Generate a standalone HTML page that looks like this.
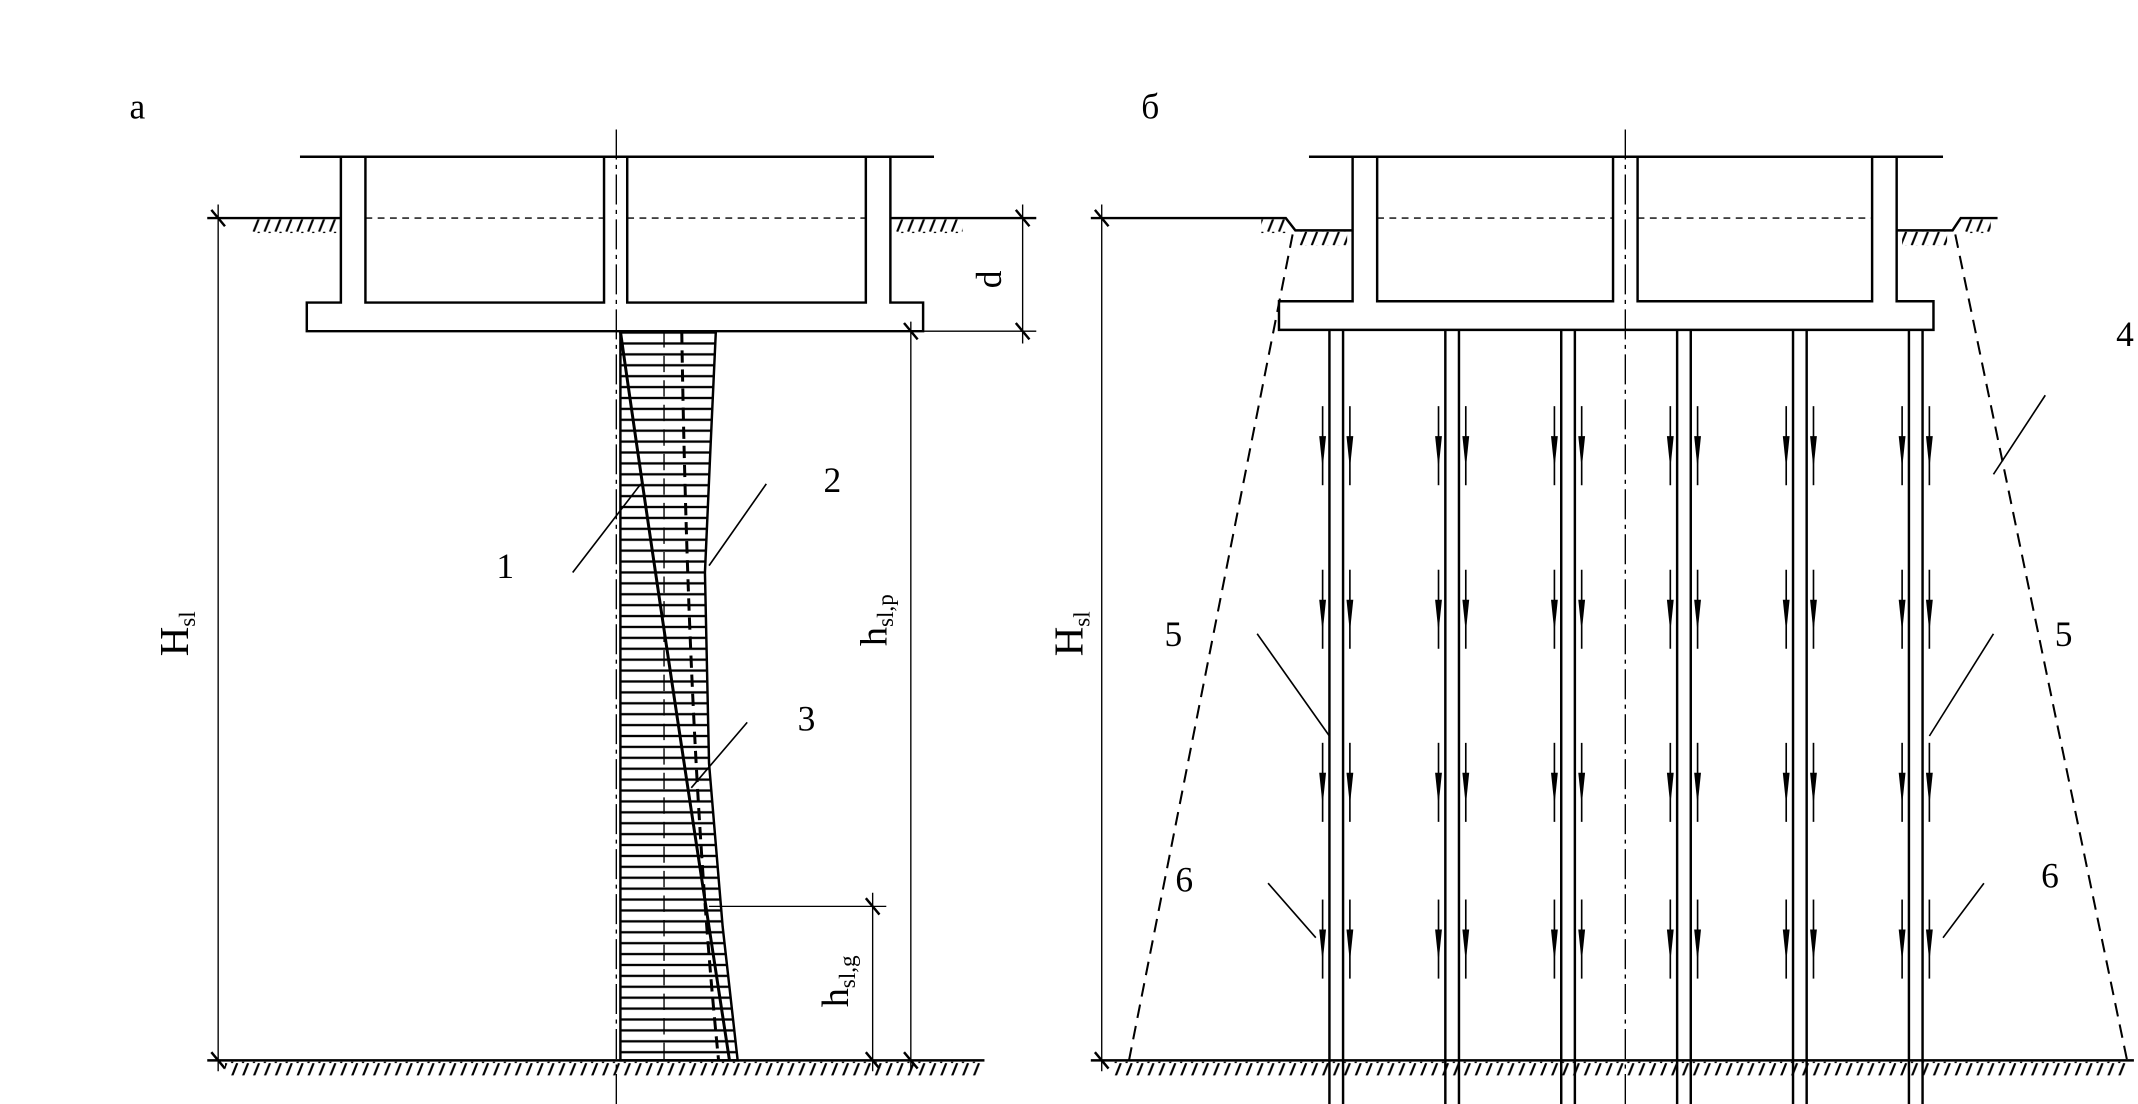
<!DOCTYPE html>
<html><head><meta charset="utf-8"><style>
html,body{margin:0;padding:0;background:#fff;}
svg{display:block;}
text{font-family:"Liberation Serif",serif;fill:#000;}
</style></head><body>
<svg width="2138" height="1104" viewBox="0 0 1568 810" preserveAspectRatio="none" xmlns="http://www.w3.org/2000/svg">
<defs>
<pattern id="hat" width="8" height="10" patternUnits="userSpaceOnUse">
<line x1="6" y1="0" x2="2" y2="10" stroke="#000" stroke-width="1.6"/>
</pattern>
<pattern id="hz" width="10" height="8" patternUnits="userSpaceOnUse">
<line x1="0" y1="4" x2="10" y2="4" stroke="#000" stroke-width="1.7"/>
</pattern>
<g id="arr">
<line x1="0" y1="0" x2="0" y2="58" stroke="#000" stroke-width="1.2"/>
<polygon points="-2.5,22 2.5,22 0,46" fill="#000"/>
</g>
<g id="col">
<use href="#arr" x="-10" y="298"/><use href="#arr" x="10" y="298"/>
<use href="#arr" x="-10" y="418"/><use href="#arr" x="10" y="418"/>
<use href="#arr" x="-10" y="545"/><use href="#arr" x="10" y="545"/>
<use href="#arr" x="-10" y="660"/><use href="#arr" x="10" y="660"/>
<line x1="-5" y1="242" x2="-5" y2="810" stroke="#000" stroke-width="1.8"/>
<line x1="5" y1="242" x2="5" y2="810" stroke="#000" stroke-width="1.8"/>
</g>
<clipPath id="dia"><polygon points="455,243 525,243 521,330 517,420 520,560 530,680 541,778 455,778"/></clipPath>
</defs>
<g stroke="#000" fill="none" stroke-width="1.8">
<!-- PANEL A -->
<line x1="220" y1="115" x2="685" y2="115"/>
<path d="M250,115 V222 H225 V243 H677 V222 H653 V115"/>
<path d="M268,115 V222 H443 V115"/>
<path d="M460,115 V222 H635 V115"/>
<line x1="268" y1="160" x2="443" y2="160" stroke-dasharray="5,4" stroke-width="1"/>
<line x1="460" y1="160" x2="635" y2="160" stroke-dasharray="5,4" stroke-width="1"/>
<line x1="452" y1="95" x2="452" y2="810" stroke-dasharray="22,4,3,4" stroke-width="1"/>
<line x1="152" y1="160" x2="250" y2="160"/>
<line x1="653" y1="160" x2="760" y2="160"/>
<line x1="152" y1="778" x2="722" y2="778"/>
<!-- dims -->
<line x1="160" y1="150" x2="160" y2="786" stroke-width="1"/>
<line x1="155" y1="154" x2="165" y2="166"/><line x1="155" y1="772" x2="165" y2="784"/>
<line x1="750" y1="150" x2="750" y2="252" stroke-width="1"/>
<line x1="677" y1="243" x2="760" y2="243" stroke-width="1"/>
<line x1="745" y1="154" x2="755" y2="166"/><line x1="745" y1="237" x2="755" y2="249"/>
<line x1="668" y1="236" x2="668" y2="786" stroke-width="1"/>
<line x1="663" y1="237" x2="673" y2="249"/><line x1="663" y1="772" x2="673" y2="784"/>
<line x1="520" y1="665" x2="650" y2="665" stroke-width="1"/>
<line x1="640" y1="655" x2="640" y2="786" stroke-width="1"/>
<line x1="635" y1="659" x2="645" y2="671"/><line x1="635" y1="772" x2="645" y2="784"/>
<!-- diagram -->
<rect x="455" y="243" width="90" height="535" fill="url(#hz)" stroke="none" clip-path="url(#dia)"/>
<polygon points="455,243 525,243 521,330 517,420 520,560 530,680 541,778 455,778"/>
<line x1="487" y1="243" x2="487" y2="778" stroke-width="1" stroke-dasharray="12,6"/>
<path d="M455,243 Q480,420 535,778" stroke-width="2.2"/>
<path d="M500,243 Q505,560 527,778" stroke-width="2.2" stroke-dasharray="9,5"/>
<line x1="420" y1="420" x2="470" y2="355" stroke-width="1.2"/>
<line x1="520" y1="415" x2="562" y2="355" stroke-width="1.2"/>
<line x1="507" y1="578" x2="548" y2="530" stroke-width="1.2"/>
<!-- PANEL B -->
<line x1="960" y1="115" x2="1425" y2="115"/>
<path d="M992,115 V221 H938 V242 H1418 V221 H1391 V115"/>
<path d="M1010,115 V221 H1183 V115"/>
<path d="M1201,115 V221 H1373 V115"/>
<line x1="1010" y1="160" x2="1183" y2="160" stroke-dasharray="5,4" stroke-width="1"/>
<line x1="1201" y1="160" x2="1373" y2="160" stroke-dasharray="5,4" stroke-width="1"/>
<line x1="1192" y1="95" x2="1192" y2="810" stroke-dasharray="22,4,3,4" stroke-width="1"/>
<path d="M800,160 H943 L950,169 H992"/>
<path d="M1391,169 H1432 L1438,160 H1465"/>
<line x1="800" y1="778" x2="1565" y2="778"/>
<line x1="808" y1="150" x2="808" y2="786" stroke-width="1"/>
<line x1="803" y1="154" x2="813" y2="166"/><line x1="803" y1="772" x2="813" y2="784"/>
<line x1="948" y1="172" x2="828" y2="778" stroke-dasharray="10,6" stroke-width="1.5"/>
<line x1="1434" y1="172" x2="1560" y2="778" stroke-dasharray="10,6" stroke-width="1.5"/>
<line x1="1462" y1="348" x2="1500" y2="290" stroke-width="1.2"/>
<line x1="922" y1="465" x2="975" y2="540" stroke-width="1.2"/>
<line x1="1462" y1="465" x2="1415" y2="540" stroke-width="1.2"/>
<line x1="930" y1="648" x2="965" y2="688" stroke-width="1.2"/>
<line x1="1455" y1="648" x2="1425" y2="688" stroke-width="1.2"/>
</g>
<!-- hatching -->
<g stroke="none" fill="url(#hat)">
<rect x="185" y="161" width="62" height="10"/><rect x="656" y="161" width="50" height="10"/>
<rect x="165" y="779" width="555" height="10"/>
<rect x="952" y="170" width="36" height="10"/><rect x="1395" y="170" width="33" height="10"/>
<rect x="925" y="161" width="18" height="10"/><rect x="1440" y="161" width="20" height="10"/>
<rect x="815" y="779" width="745" height="10"/>
</g>
<use href="#col" x="980"/><use href="#col" x="1065"/><use href="#col" x="1150"/>
<use href="#col" x="1235"/><use href="#col" x="1320"/><use href="#col" x="1405"/>
<g font-size="26">
<text x="95" y="87">а</text>
<text x="837" y="87">б</text>
<text x="364" y="424">1</text>
<text x="604" y="361">2</text>
<text x="585" y="536">3</text>
<text x="1552" y="254">4</text>
<text x="854" y="474">5</text>
<text x="1507" y="474">5</text>
<text x="862" y="654">6</text>
<text x="1497" y="651">6</text>
<text transform="translate(734,205) rotate(-90)" text-anchor="middle">d</text>
<text transform="translate(138,465) rotate(-90)" text-anchor="middle" font-size="30">H<tspan font-size="17" dy="5">sl</tspan></text>
<text transform="translate(794,465) rotate(-90)" text-anchor="middle" font-size="30">H<tspan font-size="17" dy="5">sl</tspan></text>
<text transform="translate(650,455) rotate(-90)" text-anchor="middle" font-size="28">h<tspan font-size="17" dy="5">sl,p</tspan></text>
<text transform="translate(622,720) rotate(-90)" text-anchor="middle" font-size="28">h<tspan font-size="17" dy="5">sl,g</tspan></text>
</g>
</svg>
</body></html>
